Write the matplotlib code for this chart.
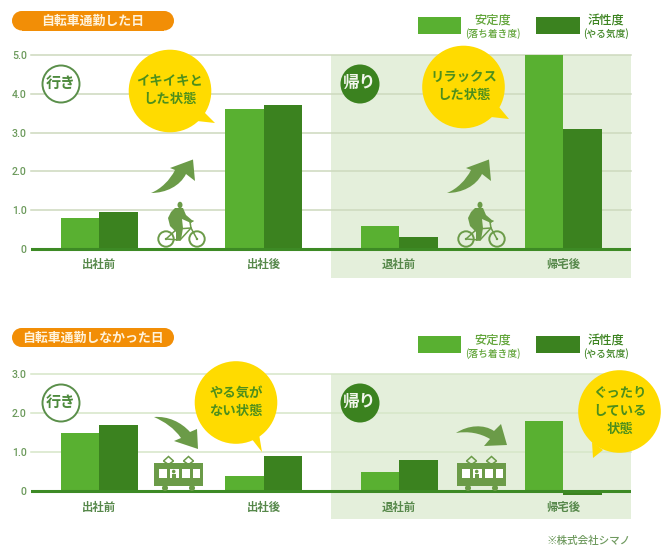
import matplotlib
matplotlib.use("Agg")
import matplotlib.pyplot as plt
from matplotlib.patches import Rectangle, Circle, Polygon, PathPatch, Ellipse
from matplotlib.path import Path

plt.rcParams['font.family'] = ['Noto Sans CJK JP', 'DejaVu Sans']

# ---- data ----
categories = ['出社前', '出社後', '退社前', '帰宅後']
bike_stability = [0.8, 3.6, 0.6, 5.0]
bike_activity = [0.95, 3.7, 0.3, 3.1]
nobike_stability = [1.5, 0.4, 0.5, 1.8]
nobike_activity = [1.7, 0.9, 0.8, -0.1]
bike_ticks = [0, 1, 2, 3, 4, 5]
nobike_ticks = [0, 1, 2, 3]
title_bike = '自転車通勤した日'
title_nobike = '自転車通勤しなかった日'

# ---- style / layout ----
W, H = 668, 547
LIGHT, DARK = '#59b031', '#3b821f'
BASE = '#3d8a25'
PANEL = '#e4efdb'
ICON = '#6b9b48'
TXT = '#56884a'
YEL = '#ffdb00'
BTXT = '#4d8f1c'
ORANGE = '#f28e06'
group_x = [99, 263.5, 399, 563]
bar_w = 38.5

fig = plt.figure(figsize=(W / 100, H / 100), dpi=100, facecolor='white')


def px_axes(x0, y_top, x1, y_bot, z):
    a = fig.add_axes([x0 / W, 1 - y_bot / H, (x1 - x0) / W, (y_bot - y_top) / H], zorder=z)
    a.patch.set_visible(False)
    return a


bg = px_axes(0, 0, W, H, 0)
bg.set_xlim(0, W); bg.set_ylim(H, 0); bg.axis('off')
ov = px_axes(0, 0, W, H, 3)
ov.set_xlim(0, W); ov.set_ylim(H, 0); ov.axis('off')

bg.add_patch(Rectangle((331, 55), 300, 223, fc=PANEL, ec='none'))
bg.add_patch(Rectangle((331, 374), 300, 145, fc=PANEL, ec='none'))


def chart(y_top, y_zero, ymax, ticks, s1, s2, gridc):
    unit = (y_zero - y_top) / ymax
    ybot = y_zero + 0.15 * unit
    ax = px_axes(31, y_top, 631, ybot, 1)
    ax.set_xlim(31, 631)
    ax.set_ylim(-0.15, ymax)
    ax.bar([g - bar_w / 2 for g in group_x], s1, bar_w, color=LIGHT, zorder=2)
    ax.bar([g + bar_w / 2 for g in group_x], s2, bar_w, color=DARK, zorder=2)
    for t in ticks[1:]:
        ax.axhline(t, color=gridc, lw=1.1, zorder=1, clip_on=False)
    ax.axhline(0, color=BASE, lw=2.2, zorder=3)
    for s in ax.spines.values():
        s.set_visible(False)
    ax.set_yticks(ticks, ['0' if t == 0 else f'{t:.1f}' for t in ticks],
                  fontsize=7.6, color='#6c9a5c', family='Roboto', fontweight='medium')
    ax.tick_params(axis='y', length=0, pad=3)
    ax.set_xticks(group_x, categories, fontsize=8.2, color=TXT, fontweight='bold')
    ax.tick_params(axis='x', length=0, pad=2.5)
    return ax


chart(55, 249, 5, bike_ticks, bike_stability, bike_activity, '#cdd9bd')
chart(374.3, 491.3, 3, nobike_ticks, nobike_stability, nobike_activity, '#d6e6c8')


def pill(x0, x1, y0, y1, text):
    h = y1 - y0
    ov.add_patch(Circle((x0 + h / 2, (y0 + y1) / 2), h / 2, fc=ORANGE, ec='none'))
    ov.add_patch(Circle((x1 - h / 2, (y0 + y1) / 2), h / 2, fc=ORANGE, ec='none'))
    ov.add_patch(Rectangle((x0 + h / 2, y0), x1 - x0 - h, h, fc=ORANGE, ec='none'))
    ov.text((x0 + x1) / 2, (y0 + y1) / 2, text, color='#fff3dc', fontsize=9.3,
            fontweight='bold', ha='center', va='center')


pill(12, 174, 11, 30.5, title_bike)
pill(12, 174, 328, 347, title_nobike)


def legend(dy):
    ov.add_patch(Rectangle((418, 16.5 + dy), 43, 17, fc=LIGHT, ec='none'))
    ov.add_patch(Rectangle((536, 16.5 + dy), 44, 17, fc=DARK, ec='none'))
    ov.text(493, 20.5 + dy, '安定度', color='#62a53a', fontsize=8.8, fontweight='medium', ha='center', va='center')
    ov.text(493, 34 + dy, '(落ち着き度)', color='#62a53a', fontsize=7, fontweight='medium', ha='center', va='center')
    ov.text(606, 20.5 + dy, '活性度', color=DARK, fontsize=8.8, fontweight='medium', ha='center', va='center')
    ov.text(606, 34 + dy, '(やる気度)', color=DARK, fontsize=7, fontweight='medium', ha='center', va='center')


legend(0)
legend(319.5)


def badge_go(cy):
    ov.add_patch(Circle((61, cy), 18.5, fc='white', ec='#5a8f4a', lw=1.4))
    ov.text(61, cy - 1, '行き', color='#4d8a3c', fontsize=10.8, fontweight='bold', ha='center', va='center')


def badge_back(cy):
    ov.add_patch(Circle((360, cy), 19.5, fc=DARK, ec='none'))
    ov.text(360, cy - 1, '帰り', color='#f2f6ec', fontsize=12, fontweight='bold', ha='center', va='center')


for cy in (84, 403):
    badge_go(cy)
    badge_back(cy)


def bubble(cx, cy, tail, tail_a, tail_b, lines):
    ov.add_patch(Polygon([tail_a, tail, tail_b], fc=YEL, ec='none'))
    ov.add_patch(Circle((cx, cy), 41.3, fc=YEL, ec='none'))
    n = len(lines)
    for i, s in enumerate(lines):
        y = cy + (i - (n - 1) / 2) * 18
        ov.text(cx, y - 1, s, color=BTXT, fontsize=9.6, fontweight='bold', ha='center', va='center')


bubble(170, 91, (215, 123), (197, 121), (204, 112), ['イキイキと', 'した状態'])
bubble(463.5, 87, (509, 119), (491, 117), (499, 107), ['リラックス', 'した状態'])
bubble(236, 402.5, (262, 452), (251, 438), (259, 434), ['やる気が', 'ない状態'])
bubble(619.5, 411.5, (593, 458), (592, 442), (603, 450), ['ぐったり', 'している', '状態'])


def curved(pts):
    """pts: start, then straight points (x, y) or bezier segments (c1x, c1y, c2x, c2y, x, y)."""
    verts, codes = [pts[0]], [Path.MOVETO]
    for p in pts[1:]:
        if len(p) == 2:
            verts.append(p); codes.append(Path.LINETO)
        else:
            verts += [p[:2], p[2:4], p[4:6]]
            codes += [Path.CURVE4] * 3
    verts.append(pts[0]); codes.append(Path.CLOSEPOLY)
    ov.add_patch(PathPatch(Path(verts, codes), fc=ICON, ec='none'))


def up_arrow(dx):
    curved([(151 + dx, 193),
            (161 + dx, 189, 170 + dx, 180, 175 + dx, 170),
            (170 + dx, 168),
            (193 + dx, 159.5),
            (195 + dx, 181),
            (186 + dx, 174),
            (180 + dx, 186, 166 + dx, 193, 151 + dx, 193)])


up_arrow(0)
up_arrow(296)
curved([(154, 417), (168, 416, 181, 422, 190, 432), (197, 429), (198, 449), (174, 441), (181, 438),
        (174, 428, 165, 422, 154, 417)])
curved([(456, 433), (468, 425, 484, 424, 494, 431), (501, 424), (507, 445), (484, 446), (490, 439),
        (480, 433, 468, 431, 456, 433)])


def bike(dx):
    for wx in (166, 197):
        ov.add_patch(Circle((wx + dx, 239), 7.7, fc='none', ec=ICON, lw=1.4))
        ov.add_patch(Circle((wx + dx, 239), 1.2, fc=ICON, ec='none'))
    frame = [[(166, 239), (177, 229), (191, 228), (197, 239)],
             [(177, 229), (180, 240), (191, 228)], [(180, 240), (166, 239)],
             [(191, 228), (190, 222), (193, 221)]]
    for f in frame:
        ov.plot([p[0] + dx for p in f], [p[1] for p in f], color=ICON, lw=1.1, solid_capstyle='round')
    ov.add_patch(Ellipse((180 + dx, 205), 5, 6.5, fc=ICON, ec='none'))
    body = [(175, 208), (183, 208), (186, 215), (193, 221), (191, 223), (182, 219),
            (183, 228), (181, 240), (176, 241), (176, 232), (170, 226), (168, 218), (171, 212)]
    ov.add_patch(Polygon([(x + dx, y) for x, y in body], fc=ICON, ec='none'))


bike(0)
bike(300)


def train(dx):
    ov.add_patch(Rectangle((154 + dx, 463), 49, 23, fc=ICON, ec='none'))
    ov.add_patch(Circle((165 + dx, 488), 3, fc=ICON, ec='none'))
    ov.add_patch(Circle((192 + dx, 488), 3, fc=ICON, ec='none'))
    for wx, ww in ((159, 8), (170, 9), (182, 8), (193, 7)):
        ov.add_patch(Rectangle((wx + dx, 468.5), ww, 9.5, fc='white', ec='none'))
    ov.add_patch(Circle((173.7 + dx, 471.5), 1.8, fc=ICON, ec='none'))
    ov.add_patch(Rectangle((172 + dx, 473.5), 3.6, 5, fc=ICON, ec='none'))
    for px in (168.5, 188.5):
        ov.add_patch(Polygon([(px - 5 + dx, 461), (px + dx, 456.5), (px + 5 + dx, 461), (px + dx, 464.5)],
                             fc='none', ec=ICON, lw=1.1))


train(0)
train(303)

ov.text(631, 540.5, '※株式会社シマノ', color='#6f9a5f', fontsize=7.6, fontweight='medium', ha='right', va='center')

fig.savefig('out.png', dpi=100, facecolor='white')
